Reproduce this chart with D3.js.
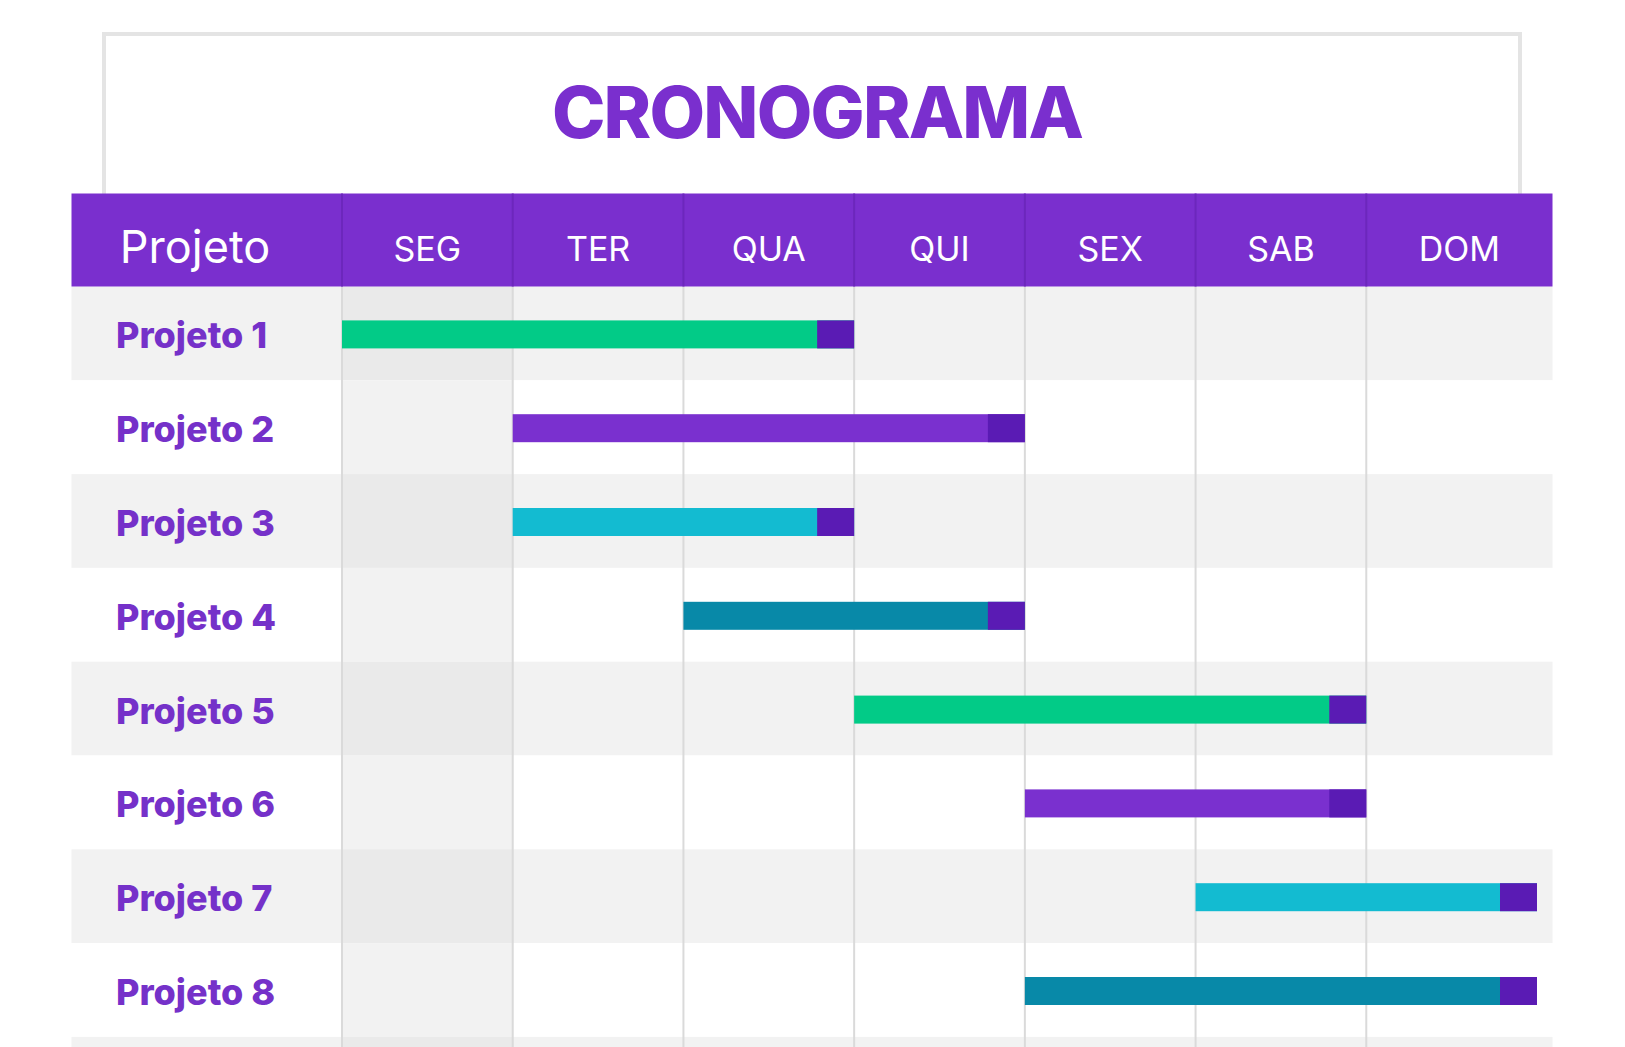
<!DOCTYPE html>
<html>
<head>
<meta charset="utf-8">
<script src="https://cdn.jsdelivr.net/npm/d3@7"></script>
<style>
  html, body { margin: 0; padding: 0; background: #ffffff; }
  svg { display: block; }
</style>
</head>
<body>
<svg id="chart" width="1625" height="1047"></svg>
<script>
// ---- data ----
const title = "CRONOGRAMA";
const headerLabel = "Projeto";
const days = ["SEG", "TER", "QUA", "QUI", "SEX", "SAB", "DOM"];
const projects = ["Projeto 1", "Projeto 2", "Projeto 3", "Projeto 4", "Projeto 5", "Projeto 6", "Projeto 7", "Projeto 8"];
const startDay = [0, 1, 1, 2, 3, 4, 5, 4];
const endDay   = [3, 4, 3, 4, 6, 6, 7, 7];
const barColors = ["#02CB87", "#7A30CF", "#13BBD1", "#0889A8", "#02CB87", "#7A30CF", "#13BBD1", "#0889A8"];

// ---- styles ----
const purple = "#7A2FCE";
const capColor = "#5A1BB4";
const labelPurple = "#7531C9";
const capW = 37;
const barH = 28;

const svg = d3.select("#chart");
const W = 1625, H = 1047;

const tableLeft = 71.5, tableRight = 1552.5;
const headerTop = 193.5, headerBottom = 286.5;
const rowStep = 93.8;

const x = d3.scaleLinear().domain([0, days.length]).range([342, 1537]);
const y = d3.scaleBand().domain(projects)
  .range([headerBottom, headerBottom + rowStep * projects.length]).padding(0);

// title box
svg.append("rect")
  .attr("x", 104).attr("y", 34)
  .attr("width", 1416).attr("height", headerTop - 34 + 10)
  .attr("fill", "#ffffff")
  .attr("stroke", "#E4E4E4").attr("stroke-width", 4);

svg.append("text")
  .attr("x", 817).attr("y", 138)
  .attr("text-anchor", "middle")
  .attr("font-family", "Inter, 'Open Sans', sans-serif")
  .attr("font-weight", 800)
  .attr("font-size", 72)
  .attr("letter-spacing", -1.8)
  .attr("fill", purple)
  .text(title);

// body stripes (including one extra partially visible row)
const nStripes = projects.length + 2;
const stripes = d3.range(nStripes);
const body = svg.append("g");
body.selectAll("rect.stripe").data(stripes).join("rect")
  .attr("class", "stripe")
  .attr("x", tableLeft)
  .attr("y", i => y.range()[0] + i * y.step())
  .attr("width", tableRight - tableLeft)
  .attr("height", y.step())
  .attr("fill", i => i % 2 === 0 ? "#F2F2F2" : "#FFFFFF");

// first day column tint
body.selectAll("rect.tint").data(stripes).join("rect")
  .attr("class", "tint")
  .attr("x", x(0))
  .attr("y", i => y.range()[0] + i * y.step())
  .attr("width", x(1) - x(0))
  .attr("height", y.step())
  .attr("fill", i => i % 2 === 0 ? "#EAEAEA" : "#F2F2F2");

// vertical grid lines
body.selectAll("line.grid").data(d3.range(days.length)).join("line")
  .attr("class", "grid")
  .attr("x1", d => x(d)).attr("x2", d => x(d))
  .attr("y1", headerBottom).attr("y2", H)
  .attr("stroke", "#DADADA").attr("stroke-width", 2);

// header band
svg.append("rect")
  .attr("x", tableLeft).attr("y", headerTop)
  .attr("width", tableRight - tableLeft).attr("height", headerBottom - headerTop)
  .attr("fill", purple);

svg.selectAll("line.hdiv").data(d3.range(days.length)).join("line")
  .attr("class", "hdiv")
  .attr("x1", d => x(d)).attr("x2", d => x(d))
  .attr("y1", headerTop).attr("y2", headerBottom)
  .attr("stroke", "#6C27BC").attr("stroke-width", 2);

svg.append("text")
  .attr("x", 195).attr("y", 263)
  .attr("text-anchor", "middle")
  .attr("font-family", "Inter, 'Open Sans', sans-serif")
  .attr("font-weight", 400)
  .attr("font-size", 45)
  .attr("fill", "#ffffff")
  .text(headerLabel);

svg.selectAll("text.day").data(days).join("text")
  .attr("class", "day")
  .attr("x", (d, i) => i === days.length - 1 ? (x(i) + tableRight) / 2 : (x(i) + x(i + 1)) / 2)
  .attr("y", 261)
  .attr("text-anchor", "middle")
  .attr("font-family", "Inter, 'Open Sans', sans-serif")
  .attr("font-weight", 400)
  .attr("font-size", 34)
  .attr("fill", "#ffffff")
  .text(d => d);

// row labels
svg.selectAll("text.row").data(projects).join("text")
  .attr("class", "row")
  .attr("x", 116)
  .attr("y", d => y(d) + y.bandwidth() / 2 + 15)
  .attr("font-family", "Inter, 'Open Sans', sans-serif")
  .attr("font-weight", 800)
  .attr("font-size", 36)
  .attr("fill", labelPurple)
  .text(d => d);

// bars
const bars = svg.append("g").selectAll("g.bar").data(projects).join("g").attr("class", "bar");
bars.append("rect")
  .attr("x", (d, i) => x(startDay[i]))
  .attr("y", d => y(d) + y.bandwidth() / 2 - barH / 2 + 1)
  .attr("width", (d, i) => x(endDay[i]) - x(startDay[i]))
  .attr("height", barH)
  .attr("fill", (d, i) => barColors[i]);
bars.append("rect")
  .attr("x", (d, i) => x(endDay[i]) - capW)
  .attr("y", d => y(d) + y.bandwidth() / 2 - barH / 2 + 1)
  .attr("width", capW)
  .attr("height", barH)
  .attr("fill", capColor);
</script>
</body>
</html>
